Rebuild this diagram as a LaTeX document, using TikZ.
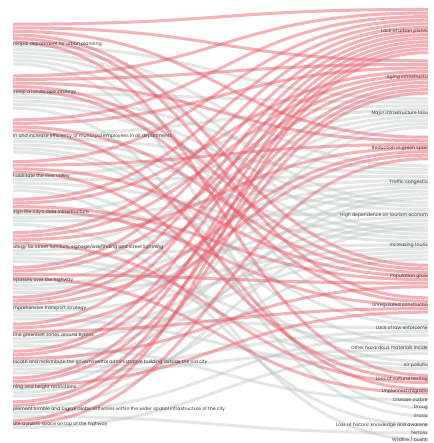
\documentclass[tikz,border=0pt]{standalone}
\usepackage{fontspec}
\setmainfont{Poppins}
\definecolor{redlk}{RGB}{236,84,98}
\definecolor{graylk}{RGB}{188,194,194}
\definecolor{txt}{RGB}{55,55,55}
\tikzset{
  redband/.style={draw=redlk, draw opacity=0.45, line width=3pt},
  grayband/.style={draw=graylk, draw opacity=0.4, line width=3pt},
  lefttxt/.style={anchor=west, inner sep=0pt, font=\fontsize{4.6}{5}\selectfont, text=txt},
  righttxt/.style={anchor=east, inner sep=0pt, font=\fontsize{4.6}{5}\selectfont, text=txt}
}
\def\lt{3.6}
\def\rightnodes{lack/31/13/{Lack of urban planni},
aging/77/10/{Aging infrastructu},
major/113/9/{Major infrastructure failu},
green/148/7/{Reduction in green spac},
traffic/182/10/{Traffic congestio},
hidep/215/8/{High dependence on tourism econom},
inctour/245/9/{Increasing touris},
pop/276/7/{Population grow},
unreg/305/5/{Unregulated constructio},
law/328/5/{Lack of law enforceme},
hazard/348/4/{Other hazardous materials incide},
air/365/3/{Air pollutio},
cult/379/3/{Loss of cultural heritag},
migr/391/2/{Unplanned migratio},
disease/400/1/{Disease outbre},
drought/408/1/{Droug},
erosion/416/1/{Erosio},
hist/425/1/{Loss of historic knowledge and awarene},
terror/433/1/{Terroris},
fire/440/1/{Wildfire / bushfi}}
\def\leftnodes{1/44/{lack,aging,green,pop,unreg,cult}/6/{major,traffic,hidep,inctour,law,drought}/6/{nicipal department for urban planning},
2/92/{lack,aging,green,pop,unreg}/5/{major,traffic,hidep,inctour,erosion}/5/{velop a landscape strategy},
3/136/{lack,aging,pop,migr}/4/{major,traffic,hidep,inctour,law,hazard}/6/{in and increase efficiency of municipal employees in all departments},
4/176/{lack,green,pop,cult}/4/{major,traffic,inctour,air,fire}/5/{habilitate the river valley},
5/212/{lack,aging,pop,unreg}/4/{major,traffic,hidep,hist}/4/{sign the city's data infrastructure},
6/247/{lack,aging,green,cult}/4/{major,traffic,inctour,hazard,air}/5/{ategy for street furniture, signage/wayfinding and street lightning},
7/280/{lack,aging,pop,migr}/4/{major,traffic,hidep,inctour}/4/{epasses over the highway},
8/308/{lack,aging,green}/3/{traffic,inctour,law,air}/4/{mprehensive transport strategy},
9/335/{lack,green,unreg}/3/{major,hidep,inctour,disease}/4/{fine greenbelt zones around Byblos},
10/362/{lack,aging,pop}/3/{traffic,hidep,law,hazard}/4/{locate and redistribute the governmental administrative building outside the old city},
11/387/{lack,aging,unreg}/3/{major,traffic,inctour}/3/{ning and height restrictions},
12/409/{lack,aging}/2/{hidep,law,terror}/3/{plement trimble and Digital Globe softwares within the wider spatial infrastructure of the city},
13/424/{lack,green}/2/{hazard}/1/{ate a public space on top of the highway}}
\begin{document}
\begin{tikzpicture}[x=1pt,y=-1pt]
\useasboundingbox (0,0) rectangle (433,443);
\fill[white] (0,0) rectangle (433,443);
% initialise right offsets
\foreach \key/\c/\n/\lab in \rightnodes {
  \pgfmathsetmacro\top{\c-\n*\lt/2}
  \expandafter\xdef\csname off@\key\endcsname{\top}
}
\begin{scope}
\clip (13,0) rectangle (428,443);
% gray pass
\foreach \i/\c/\rl/\nr/\gl/\ng/\lab in \leftnodes {
  \pgfmathsetmacro\st{\c-(\nr+\ng)*\lt/2+\nr*\lt}
  \foreach \tg [count=\k] in \gl {
    \edef\cur{\csname off@\tg\endcsname}
    \pgfmathsetmacro\ya{\st+(\k-0.5)*\lt}
    \pgfmathsetmacro\yb{\cur+0.5*\lt}
    \pgfmathsetmacro\nx{\cur+\lt}
    \expandafter\xdef\csname off@\tg\endcsname{\nx}
    \coordinate (gs-\i-\k) at (13,\ya);
    \coordinate (ge-\i-\k) at (428,\yb);
    \draw[grayband] (gs-\i-\k) .. controls +(207.5,0) and +(-207.5,0) .. (ge-\i-\k);
  }
}
% red pass
\foreach \i/\c/\rl/\nr/\gl/\ng/\lab in \leftnodes {
  \pgfmathsetmacro\st{\c-(\nr+\ng)*\lt/2}
  \foreach \tg [count=\k] in \rl {
    \edef\cur{\csname off@\tg\endcsname}
    \pgfmathsetmacro\ya{\st+(\k-0.5)*\lt}
    \pgfmathsetmacro\yb{\cur+0.5*\lt}
    \pgfmathsetmacro\nx{\cur+\lt}
    \expandafter\xdef\csname off@\tg\endcsname{\nx}
    \coordinate (rs-\i-\k) at (13,\ya);
    \coordinate (re-\i-\k) at (428,\yb);
    \draw[redband] (rs-\i-\k) .. controls +(207.5,0) and +(-207.5,0) .. (re-\i-\k);
  }
}
\end{scope}
% labels
\foreach \i/\c/\rl/\nr/\gl/\ng/\lab in \leftnodes {
  \node[lefttxt] (left-\i) at (13,\c) {\lab};
}
\foreach \key/\c/\n/\lab in \rightnodes {
  \node[righttxt] (right-\key) at (428,\c) {\lab};
}
\end{tikzpicture}
\end{document}
